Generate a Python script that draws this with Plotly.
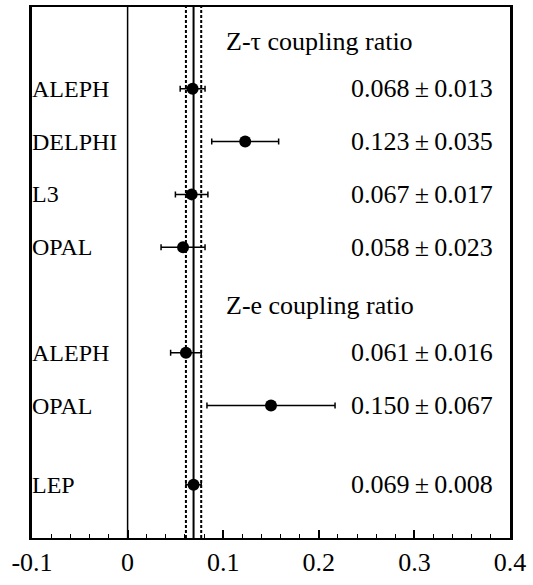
import plotly.graph_objects as go

# Data
labels = ["ALEPH", "DELPHI", "L3", "OPAL", "ALEPH", "OPAL", "LEP"]
values = [0.068, 0.123, 0.067, 0.058, 0.061, 0.150, 0.069]
errors = [0.013, 0.035, 0.017, 0.023, 0.016, 0.067, 0.008]
rows = [1, 2, 3, 4, 6, 7, 8.5]
group_titles = ["Z-\u03c4 coupling ratio", "Z-e coupling ratio"]
group_rows = [0.1, 5.1]
lep_value = 0.069
lep_error = 0.008
x_ticks = [-0.1, 0, 0.1, 0.2, 0.3, 0.4]
x_tick_text = ["-0.1", "0", "0.1", "0.2", "0.3", "0.4"]

FONT = "Liberation Serif, Times New Roman, serif"

fig = go.Figure()

fig.add_trace(go.Scatter(
    x=values, y=rows, mode="markers",
    marker=dict(color="black", size=12, symbol="circle"),
    error_x=dict(type="data", array=errors, color="black", thickness=1.5, width=3),
    showlegend=False, hoverinfo="skip",
))

shapes = []
shapes.append(dict(type="line", xref="x", yref="paper", x0=0, x1=0, y0=0, y1=1,
                   line=dict(color="black", width=1.5)))
shapes.append(dict(type="line", xref="x", yref="paper", x0=lep_value, x1=lep_value, y0=0, y1=1,
                   line=dict(color="black", width=2)))
for s in (-1, 1):
    xv = lep_value + s * lep_error
    shapes.append(dict(type="line", xref="x", yref="paper", x0=xv, x1=xv, y0=0, y1=1,
                       line=dict(color="black", width=2, dash="3px,2px")))

annotations = []
for lab, r in zip(labels, rows):
    annotations.append(dict(x=0, xref="paper", y=r, yref="y", text=lab, showarrow=False,
                            xanchor="left", yanchor="middle", xshift=-2,
                            font=dict(family=FONT, size=24, color="black")))
for v, e, r in zip(values, errors, rows):
    annotations.append(dict(x=0.232, xref="x", y=r, yref="y",
                            text=f"{v:.3f}\u2009\u00b1\u2009{e:.3f}", showarrow=False,
                            xanchor="left", yanchor="middle",
                            font=dict(family=FONT, size=26, color="black")))
for t, r in zip(group_titles, group_rows):
    annotations.append(dict(x=0.101, xref="x", y=r, yref="y", text=t, showarrow=False,
                            xanchor="left", yanchor="middle",
                            font=dict(family=FONT, size=26, color="black")))

fig.update_layout(
    width=533, height=585,
    margin=dict(l=32, r=23, t=5, b=47),
    plot_bgcolor="white", paper_bgcolor="white",
    shapes=shapes, annotations=annotations,
    font=dict(family=FONT, size=26, color="black"),
    xaxis=dict(range=[-0.1, 0.4], tickvals=x_ticks, ticktext=x_tick_text,
               ticks="inside", ticklen=8, tickwidth=1.5, tickcolor="black",
               minor=dict(dtick=0.02, tick0=0, ticks="inside", ticklen=4, tickwidth=1, tickcolor="black"),
               showline=True, linecolor="black", linewidth=2, mirror=True,
               showgrid=False, zeroline=False,
               tickfont=dict(family=FONT, size=26, color="black")),
    yaxis=dict(range=[9.51, -0.55], showticklabels=False, ticks="",
               showline=True, linecolor="black", linewidth=2.5, mirror=True,
               showgrid=False, zeroline=False),
)

fig.write_html("out.html")
